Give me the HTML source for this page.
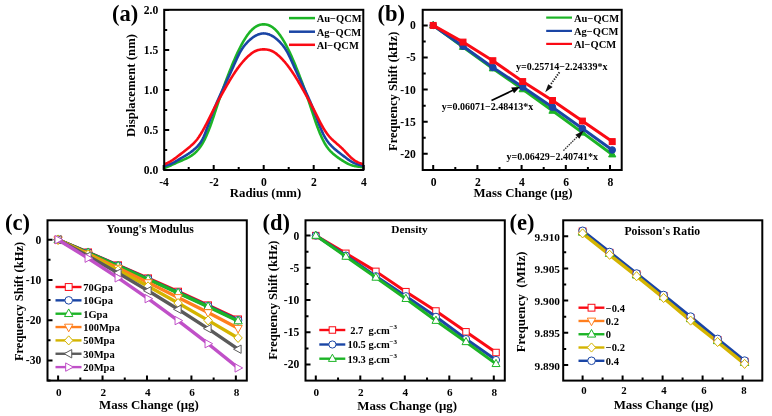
<!DOCTYPE html>
<html><head><meta charset="utf-8"><style>
html,body{margin:0;padding:0;background:#fff;width:772px;height:416px;overflow:hidden}
svg{display:block;will-change:transform}
text{fill:#000}
</style></head><body>
<svg width="772" height="416" viewBox="0 0 772 416" font-family='"Liberation Serif", serif'>
<rect width="772" height="416" fill="#fff"/>
<clipPath id="ca"><rect x="164.2" y="9.8" width="199.10000000000002" height="160.2"/></clipPath>
<path d="M163.70 168.30 L164.32 168.03 L164.95 167.76 L165.57 167.50 L166.20 167.23 L166.82 166.97 L167.45 166.72 L168.07 166.46 L168.70 166.20 L169.32 165.95 L169.95 165.69 L170.57 165.44 L171.20 165.18 L171.82 164.91 L172.45 164.64 L173.07 164.37 L173.70 164.09 L174.32 163.80 L174.95 163.52 L175.57 163.23 L176.20 162.94 L176.82 162.65 L177.45 162.36 L178.07 162.08 L178.70 161.79 L179.32 161.52 L179.95 161.24 L180.57 160.97 L181.20 160.70 L181.82 160.44 L182.45 160.18 L183.07 159.91 L183.70 159.65 L184.32 159.38 L184.95 159.11 L185.57 158.83 L186.20 158.54 L186.82 158.25 L187.45 157.94 L188.07 157.62 L188.70 157.29 L189.32 156.94 L189.95 156.57 L190.57 156.19 L191.20 155.80 L191.82 155.38 L192.45 154.94 L193.07 154.48 L193.70 154.00 L194.32 153.49 L194.95 152.95 L195.57 152.38 L196.20 151.78 L196.82 151.14 L197.45 150.46 L198.07 149.75 L198.70 148.99 L199.32 148.19 L199.95 147.34 L200.57 146.45 L201.20 145.51 L201.82 144.53 L202.45 143.49 L203.07 142.40 L203.70 141.26 L204.32 140.07 L204.95 138.82 L205.57 137.52 L206.20 136.16 L206.82 134.76 L207.45 133.30 L208.07 131.78 L208.70 130.22 L209.32 128.61 L209.95 126.95 L210.57 125.25 L211.20 123.51 L211.82 121.73 L212.45 119.92 L213.07 118.08 L213.70 116.22 L214.32 114.35 L214.95 112.46 L215.57 110.57 L216.20 108.68 L216.82 106.80 L217.45 104.92 L218.07 103.05 L218.70 101.19 L219.32 99.35 L219.95 97.52 L220.57 95.71 L221.20 93.91 L221.82 92.13 L222.45 90.37 L223.07 88.63 L223.70 86.90 L224.32 85.19 L224.95 83.50 L225.57 81.82 L226.20 80.16 L226.82 78.51 L227.45 76.88 L228.07 75.27 L228.70 73.66 L229.32 72.07 L229.95 70.50 L230.57 68.94 L231.20 67.39 L231.82 65.86 L232.45 64.34 L233.07 62.84 L233.70 61.35 L234.32 59.89 L234.95 58.44 L235.57 57.02 L236.20 55.62 L236.82 54.24 L237.45 52.89 L238.07 51.56 L238.70 50.26 L239.32 48.99 L239.95 47.75 L240.57 46.53 L241.20 45.34 L241.82 44.18 L242.45 43.04 L243.07 41.94 L243.70 40.87 L244.32 39.83 L244.95 38.82 L245.57 37.85 L246.20 36.90 L246.82 35.99 L247.45 35.11 L248.07 34.27 L248.70 33.45 L249.32 32.67 L249.95 31.92 L250.57 31.20 L251.20 30.52 L251.82 29.87 L252.45 29.26 L253.07 28.69 L253.70 28.16 L254.32 27.66 L254.95 27.21 L255.57 26.79 L256.20 26.41 L256.82 26.07 L257.45 25.76 L258.07 25.49 L258.70 25.25 L259.32 25.03 L259.95 24.85 L260.57 24.69 L261.20 24.56 L261.82 24.46 L262.45 24.39 L263.07 24.35 L263.70 24.33 L264.32 24.35 L264.95 24.39 L265.57 24.46 L266.20 24.56 L266.82 24.69 L267.45 24.85 L268.07 25.03 L268.70 25.25 L269.32 25.49 L269.95 25.76 L270.57 26.07 L271.20 26.41 L271.82 26.79 L272.45 27.21 L273.07 27.66 L273.70 28.16 L274.32 28.69 L274.95 29.26 L275.57 29.87 L276.20 30.52 L276.82 31.20 L277.45 31.92 L278.07 32.67 L278.70 33.45 L279.32 34.27 L279.95 35.11 L280.57 35.99 L281.20 36.90 L281.82 37.85 L282.45 38.82 L283.07 39.83 L283.70 40.87 L284.32 41.94 L284.95 43.04 L285.57 44.18 L286.20 45.34 L286.82 46.53 L287.45 47.75 L288.07 48.99 L288.70 50.26 L289.32 51.56 L289.95 52.89 L290.57 54.24 L291.20 55.62 L291.82 57.02 L292.45 58.44 L293.07 59.89 L293.70 61.35 L294.32 62.84 L294.95 64.34 L295.57 65.86 L296.20 67.39 L296.82 68.94 L297.45 70.50 L298.07 72.07 L298.70 73.66 L299.32 75.27 L299.95 76.88 L300.57 78.51 L301.20 80.16 L301.82 81.82 L302.45 83.50 L303.07 85.19 L303.70 86.90 L304.32 88.63 L304.95 90.37 L305.57 92.13 L306.20 93.91 L306.82 95.71 L307.45 97.52 L308.07 99.34 L308.70 101.19 L309.32 103.04 L309.95 104.91 L310.57 106.79 L311.20 108.67 L311.82 110.56 L312.45 112.45 L313.07 114.33 L313.70 116.21 L314.32 118.07 L314.95 119.91 L315.57 121.73 L316.20 123.52 L316.82 125.27 L317.45 126.98 L318.07 128.65 L318.70 130.28 L319.32 131.86 L319.95 133.39 L320.57 134.87 L321.20 136.30 L321.82 137.67 L322.45 138.99 L323.07 140.26 L323.70 141.47 L324.32 142.63 L324.95 143.73 L325.57 144.78 L326.20 145.77 L326.82 146.71 L327.45 147.59 L328.07 148.42 L328.70 149.21 L329.32 149.95 L329.95 150.66 L330.57 151.32 L331.20 151.95 L331.82 152.55 L332.45 153.13 L333.07 153.69 L333.70 154.22 L334.32 154.74 L334.95 155.25 L335.57 155.74 L336.20 156.23 L336.82 156.70 L337.45 157.16 L338.07 157.62 L338.70 158.06 L339.32 158.50 L339.95 158.93 L340.57 159.35 L341.20 159.77 L341.82 160.17 L342.45 160.58 L343.07 160.97 L343.70 161.36 L344.32 161.74 L344.95 162.12 L345.57 162.48 L346.20 162.84 L346.82 163.18 L347.45 163.52 L348.07 163.83 L348.70 164.13 L349.32 164.41 L349.95 164.67 L350.57 164.91 L351.20 165.14 L351.82 165.34 L352.45 165.52 L353.07 165.69 L353.70 165.84 L354.32 165.98 L354.95 166.11 L355.57 166.22 L356.20 166.32 L356.82 166.42 L357.45 166.51 L358.07 166.60 L358.70 166.68 L359.32 166.76 L359.95 166.83 L360.57 166.91 L361.20 166.98 L361.82 167.05 L362.45 167.12 L363.07 167.19 L363.70 167.26" stroke="#1cb426" stroke-width="2.6" fill="none" stroke-linejoin="round" clip-path="url(#ca)"/>
<path d="M163.70 166.30 L164.32 166.10 L164.95 165.90 L165.57 165.71 L166.20 165.51 L166.82 165.31 L167.45 165.10 L168.07 164.89 L168.70 164.68 L169.32 164.46 L169.95 164.22 L170.57 163.98 L171.20 163.72 L171.82 163.45 L172.45 163.16 L173.07 162.86 L173.70 162.54 L174.32 162.20 L174.95 161.85 L175.57 161.49 L176.20 161.12 L176.82 160.74 L177.45 160.36 L178.07 159.98 L178.70 159.60 L179.32 159.22 L179.95 158.85 L180.57 158.48 L181.20 158.11 L181.82 157.75 L182.45 157.39 L183.07 157.03 L183.70 156.67 L184.32 156.31 L184.95 155.95 L185.57 155.58 L186.20 155.21 L186.82 154.82 L187.45 154.43 L188.07 154.03 L188.70 153.62 L189.32 153.19 L189.95 152.76 L190.57 152.31 L191.20 151.85 L191.82 151.38 L192.45 150.89 L193.07 150.39 L193.70 149.87 L194.32 149.34 L194.95 148.79 L195.57 148.22 L196.20 147.63 L196.82 147.01 L197.45 146.36 L198.07 145.68 L198.70 144.96 L199.32 144.18 L199.95 143.35 L200.57 142.45 L201.20 141.47 L201.82 140.42 L202.45 139.27 L203.07 138.03 L203.70 136.70 L204.32 135.27 L204.95 133.77 L205.57 132.19 L206.20 130.55 L206.82 128.86 L207.45 127.14 L208.07 125.39 L208.70 123.64 L209.32 121.88 L209.95 120.14 L210.57 118.41 L211.20 116.71 L211.82 115.03 L212.45 113.37 L213.07 111.75 L213.70 110.15 L214.32 108.58 L214.95 107.03 L215.57 105.51 L216.20 104.02 L216.82 102.55 L217.45 101.10 L218.07 99.67 L218.70 98.25 L219.32 96.86 L219.95 95.47 L220.57 94.10 L221.20 92.73 L221.82 91.38 L222.45 90.03 L223.07 88.69 L223.70 87.35 L224.32 86.02 L224.95 84.69 L225.57 83.37 L226.20 82.05 L226.82 80.72 L227.45 79.40 L228.07 78.07 L228.70 76.74 L229.32 75.40 L229.95 74.05 L230.57 72.69 L231.20 71.32 L231.82 69.93 L232.45 68.54 L233.07 67.13 L233.70 65.72 L234.32 64.30 L234.95 62.89 L235.57 61.48 L236.20 60.09 L236.82 58.73 L237.45 57.39 L238.07 56.09 L238.70 54.84 L239.32 53.63 L239.95 52.47 L240.57 51.36 L241.20 50.31 L241.82 49.31 L242.45 48.35 L243.07 47.45 L243.70 46.59 L244.32 45.77 L244.95 44.99 L245.57 44.24 L246.20 43.53 L246.82 42.84 L247.45 42.18 L248.07 41.55 L248.70 40.94 L249.32 40.35 L249.95 39.78 L250.57 39.24 L251.20 38.72 L251.82 38.22 L252.45 37.75 L253.07 37.30 L253.70 36.87 L254.32 36.47 L254.95 36.09 L255.57 35.74 L256.20 35.41 L256.82 35.11 L257.45 34.83 L258.07 34.57 L258.70 34.34 L259.32 34.13 L259.95 33.95 L260.57 33.79 L261.20 33.66 L261.82 33.55 L262.45 33.48 L263.07 33.43 L263.70 33.42 L264.32 33.43 L264.95 33.48 L265.57 33.55 L266.20 33.66 L266.82 33.79 L267.45 33.95 L268.07 34.13 L268.70 34.34 L269.32 34.57 L269.95 34.83 L270.57 35.11 L271.20 35.41 L271.82 35.74 L272.45 36.09 L273.07 36.47 L273.70 36.87 L274.32 37.30 L274.95 37.75 L275.57 38.22 L276.20 38.72 L276.82 39.24 L277.45 39.78 L278.07 40.35 L278.70 40.94 L279.32 41.55 L279.95 42.18 L280.57 42.84 L281.20 43.53 L281.82 44.24 L282.45 44.99 L283.07 45.77 L283.70 46.59 L284.32 47.45 L284.95 48.35 L285.57 49.31 L286.20 50.31 L286.82 51.36 L287.45 52.47 L288.07 53.63 L288.70 54.84 L289.32 56.09 L289.95 57.39 L290.57 58.73 L291.20 60.09 L291.82 61.48 L292.45 62.89 L293.07 64.30 L293.70 65.72 L294.32 67.13 L294.95 68.54 L295.57 69.93 L296.20 71.32 L296.82 72.69 L297.45 74.05 L298.07 75.40 L298.70 76.74 L299.32 78.07 L299.95 79.40 L300.57 80.72 L301.20 82.05 L301.82 83.37 L302.45 84.69 L303.07 86.02 L303.70 87.35 L304.32 88.69 L304.95 90.03 L305.57 91.38 L306.20 92.73 L306.82 94.10 L307.45 95.47 L308.07 96.86 L308.70 98.26 L309.32 99.68 L309.95 101.12 L310.57 102.58 L311.20 104.06 L311.82 105.57 L312.45 107.10 L313.07 108.65 L313.70 110.23 L314.32 111.83 L314.95 113.46 L315.57 115.10 L316.20 116.74 L316.82 118.40 L317.45 120.05 L318.07 121.70 L318.70 123.33 L319.32 124.94 L319.95 126.52 L320.57 128.07 L321.20 129.57 L321.82 131.01 L322.45 132.40 L323.07 133.73 L323.70 135.00 L324.32 136.19 L324.95 137.32 L325.57 138.38 L326.20 139.38 L326.82 140.32 L327.45 141.21 L328.07 142.04 L328.70 142.84 L329.32 143.59 L329.95 144.31 L330.57 145.00 L331.20 145.66 L331.82 146.30 L332.45 146.93 L333.07 147.53 L333.70 148.11 L334.32 148.68 L334.95 149.24 L335.57 149.78 L336.20 150.31 L336.82 150.83 L337.45 151.34 L338.07 151.85 L338.70 152.34 L339.32 152.83 L339.95 153.31 L340.57 153.78 L341.20 154.26 L341.82 154.73 L342.45 155.19 L343.07 155.66 L343.70 156.13 L344.32 156.60 L344.95 157.07 L345.57 157.55 L346.20 158.02 L346.82 158.48 L347.45 158.94 L348.07 159.40 L348.70 159.84 L349.32 160.28 L349.95 160.69 L350.57 161.09 L351.20 161.47 L351.82 161.83 L352.45 162.17 L353.07 162.50 L353.70 162.80 L354.32 163.08 L354.95 163.35 L355.57 163.60 L356.20 163.84 L356.82 164.07 L357.45 164.28 L358.07 164.48 L358.70 164.67 L359.32 164.85 L359.95 165.02 L360.57 165.18 L361.20 165.33 L361.82 165.48 L362.45 165.62 L363.07 165.76 L363.70 165.90" stroke="#1a45a5" stroke-width="2.6" fill="none" stroke-linejoin="round" clip-path="url(#ca)"/>
<path d="M163.70 164.70 L164.32 164.42 L164.95 164.13 L165.57 163.84 L166.20 163.55 L166.82 163.25 L167.45 162.95 L168.07 162.63 L168.70 162.31 L169.32 161.98 L169.95 161.63 L170.57 161.28 L171.20 160.90 L171.82 160.52 L172.45 160.12 L173.07 159.70 L173.70 159.28 L174.32 158.84 L174.95 158.39 L175.57 157.94 L176.20 157.47 L176.82 157.01 L177.45 156.53 L178.07 156.06 L178.70 155.58 L179.32 155.10 L179.95 154.62 L180.57 154.13 L181.20 153.65 L181.82 153.17 L182.45 152.68 L183.07 152.19 L183.70 151.71 L184.32 151.21 L184.95 150.72 L185.57 150.23 L186.20 149.73 L186.82 149.23 L187.45 148.72 L188.07 148.21 L188.70 147.70 L189.32 147.18 L189.95 146.66 L190.57 146.13 L191.20 145.58 L191.82 145.03 L192.45 144.45 L193.07 143.86 L193.70 143.25 L194.32 142.61 L194.95 141.94 L195.57 141.24 L196.20 140.50 L196.82 139.73 L197.45 138.93 L198.07 138.08 L198.70 137.19 L199.32 136.27 L199.95 135.31 L200.57 134.32 L201.20 133.30 L201.82 132.24 L202.45 131.17 L203.07 130.06 L203.70 128.94 L204.32 127.80 L204.95 126.63 L205.57 125.46 L206.20 124.26 L206.82 123.05 L207.45 121.83 L208.07 120.60 L208.70 119.36 L209.32 118.11 L209.95 116.86 L210.57 115.61 L211.20 114.35 L211.82 113.10 L212.45 111.86 L213.07 110.62 L213.70 109.40 L214.32 108.18 L214.95 106.97 L215.57 105.78 L216.20 104.59 L216.82 103.41 L217.45 102.25 L218.07 101.09 L218.70 99.94 L219.32 98.80 L219.95 97.67 L220.57 96.54 L221.20 95.41 L221.82 94.29 L222.45 93.18 L223.07 92.07 L223.70 90.96 L224.32 89.85 L224.95 88.75 L225.57 87.65 L226.20 86.56 L226.82 85.47 L227.45 84.39 L228.07 83.31 L228.70 82.25 L229.32 81.19 L229.95 80.14 L230.57 79.11 L231.20 78.08 L231.82 77.07 L232.45 76.07 L233.07 75.09 L233.70 74.12 L234.32 73.17 L234.95 72.23 L235.57 71.30 L236.20 70.39 L236.82 69.50 L237.45 68.63 L238.07 67.77 L238.70 66.93 L239.32 66.10 L239.95 65.29 L240.57 64.50 L241.20 63.72 L241.82 62.96 L242.45 62.22 L243.07 61.49 L243.70 60.79 L244.32 60.09 L244.95 59.42 L245.57 58.76 L246.20 58.12 L246.82 57.50 L247.45 56.89 L248.07 56.31 L248.70 55.73 L249.32 55.18 L249.95 54.65 L250.57 54.13 L251.20 53.64 L251.82 53.18 L252.45 52.74 L253.07 52.33 L253.70 51.95 L254.32 51.59 L254.95 51.27 L255.57 50.98 L256.20 50.72 L256.82 50.48 L257.45 50.28 L258.07 50.09 L258.70 49.93 L259.32 49.79 L259.95 49.68 L260.57 49.58 L261.20 49.50 L261.82 49.44 L262.45 49.39 L263.07 49.36 L263.70 49.36 L264.32 49.36 L264.95 49.39 L265.57 49.44 L266.20 49.50 L266.82 49.58 L267.45 49.68 L268.07 49.79 L268.70 49.93 L269.32 50.09 L269.95 50.28 L270.57 50.48 L271.20 50.72 L271.82 50.98 L272.45 51.27 L273.07 51.59 L273.70 51.95 L274.32 52.33 L274.95 52.74 L275.57 53.18 L276.20 53.64 L276.82 54.13 L277.45 54.65 L278.07 55.18 L278.70 55.73 L279.32 56.31 L279.95 56.89 L280.57 57.50 L281.20 58.12 L281.82 58.76 L282.45 59.42 L283.07 60.09 L283.70 60.79 L284.32 61.49 L284.95 62.22 L285.57 62.96 L286.20 63.72 L286.82 64.50 L287.45 65.29 L288.07 66.10 L288.70 66.93 L289.32 67.77 L289.95 68.63 L290.57 69.50 L291.20 70.39 L291.82 71.30 L292.45 72.23 L293.07 73.17 L293.70 74.12 L294.32 75.09 L294.95 76.07 L295.57 77.07 L296.20 78.08 L296.82 79.11 L297.45 80.14 L298.07 81.19 L298.70 82.25 L299.32 83.31 L299.95 84.39 L300.57 85.47 L301.20 86.56 L301.82 87.65 L302.45 88.75 L303.07 89.85 L303.70 90.96 L304.32 92.07 L304.95 93.18 L305.57 94.30 L306.20 95.42 L306.82 96.54 L307.45 97.67 L308.07 98.80 L308.70 99.95 L309.32 101.10 L309.95 102.26 L310.57 103.42 L311.20 104.60 L311.82 105.79 L312.45 106.99 L313.07 108.21 L313.70 109.43 L314.32 110.67 L314.95 111.91 L315.57 113.16 L316.20 114.42 L316.82 115.68 L317.45 116.93 L318.07 118.18 L318.70 119.42 L319.32 120.64 L319.95 121.85 L320.57 123.03 L321.20 124.20 L321.82 125.33 L322.45 126.45 L323.07 127.53 L323.70 128.58 L324.32 129.60 L324.95 130.59 L325.57 131.55 L326.20 132.47 L326.82 133.35 L327.45 134.20 L328.07 135.02 L328.70 135.80 L329.32 136.54 L329.95 137.25 L330.57 137.93 L331.20 138.58 L331.82 139.20 L332.45 139.80 L333.07 140.38 L333.70 140.95 L334.32 141.50 L334.95 142.05 L335.57 142.59 L336.20 143.13 L336.82 143.67 L337.45 144.21 L338.07 144.75 L338.70 145.30 L339.32 145.86 L339.95 146.42 L340.57 146.99 L341.20 147.58 L341.82 148.18 L342.45 148.79 L343.07 149.41 L343.70 150.05 L344.32 150.70 L344.95 151.35 L345.57 152.02 L346.20 152.68 L346.82 153.35 L347.45 154.01 L348.07 154.67 L348.70 155.31 L349.32 155.94 L349.95 156.55 L350.57 157.14 L351.20 157.71 L351.82 158.26 L352.45 158.79 L353.07 159.29 L353.70 159.76 L354.32 160.21 L354.95 160.64 L355.57 161.03 L356.20 161.40 L356.82 161.75 L357.45 162.07 L358.07 162.36 L358.70 162.64 L359.32 162.89 L359.95 163.13 L360.57 163.35 L361.20 163.56 L361.82 163.75 L362.45 163.94 L363.07 164.12 L363.70 164.30" stroke="#fa0a14" stroke-width="2.6" fill="none" stroke-linejoin="round" clip-path="url(#ca)"/>
<rect x="164.2" y="9.8" width="199.1" height="160.2" fill="none" stroke="#000" stroke-width="2.0"/>
<path d="M163.7 170V165M213.7 170V165M263.7 170V165M313.7 170V165M363.7 170V165M188.7 170V167M238.7 170V167M288.7 170V167M338.7 170V167" stroke="#000" stroke-width="2.0" fill="none"/>
<path d="M164.2 169.9H169.2M164.2 129.9H169.2M164.2 89.9H169.2M164.2 49.9H169.2M164.2 9.9H169.2M164.2 149.9H167.2M164.2 109.9H167.2M164.2 69.9H167.2M164.2 29.9H167.2" stroke="#000" stroke-width="2.0" fill="none"/>
<text x="158.3" y="173.9" font-size="11.6" text-anchor="end" font-weight="bold">0.0</text>
<text x="158.3" y="133.9" font-size="11.6" text-anchor="end" font-weight="bold">0.5</text>
<text x="158.3" y="93.9" font-size="11.6" text-anchor="end" font-weight="bold">1.0</text>
<text x="158.3" y="53.9" font-size="11.6" text-anchor="end" font-weight="bold">1.5</text>
<text x="158.3" y="13.9" font-size="11.6" text-anchor="end" font-weight="bold">2.0</text>
<text x="164" y="185.6" font-size="11.6" text-anchor="middle" font-weight="bold">-4</text>
<text x="214" y="185.6" font-size="11.6" text-anchor="middle" font-weight="bold">-2</text>
<text x="264" y="185.6" font-size="11.6" text-anchor="middle" font-weight="bold">0</text>
<text x="314" y="185.6" font-size="11.6" text-anchor="middle" font-weight="bold">2</text>
<text x="364" y="185.6" font-size="11.6" text-anchor="middle" font-weight="bold">4</text>
<text x="265.5" y="196.7" font-size="12.8" text-anchor="middle" font-weight="bold">Radius (mm)</text>
<text x="134.6" y="85.5" font-size="12.75" text-anchor="middle" font-weight="bold" transform="rotate(-90 134.6 85.5)">Displacement (nm)</text>
<text x="112" y="20.8" font-size="22.5" text-anchor="start" font-weight="bold">(a)</text>
<path d="M289 18.1H315" stroke="#1cb426" stroke-width="2.5"/>
<text x="316.7" y="21.9" font-size="10.5" text-anchor="start" font-weight="bold">Au−QCM</text>
<path d="M289 31.7H315" stroke="#1a45a5" stroke-width="2.5"/>
<text x="316.7" y="35.5" font-size="10.5" text-anchor="start" font-weight="bold">Ag−QCM</text>
<path d="M289 44.8H315" stroke="#fa0a14" stroke-width="2.5"/>
<text x="316.7" y="48.6" font-size="10.5" text-anchor="start" font-weight="bold">Al−QCM</text>
<path d="M433.2 25.4 L463.03 46.91 L492.87 68.41 L522.7 89.28 L552.54 110.79 L582.38 132.61 L612.21 154.44" stroke="#1cb426" stroke-width="3" fill="none" stroke-linejoin="round"/>
<path d="M433.2 21.27L436.83 27.88L429.57 27.88Z" fill="#1cb426" stroke="#1cb426" stroke-width="1.0" stroke-linejoin="miter"/>
<path d="M463.03 42.78L466.66 49.38L459.4 49.38Z" fill="#1cb426" stroke="#1cb426" stroke-width="1.0" stroke-linejoin="miter"/>
<path d="M492.87 64.29L496.5 70.89L489.24 70.89Z" fill="#1cb426" stroke="#1cb426" stroke-width="1.0" stroke-linejoin="miter"/>
<path d="M522.7 85.15L526.33 91.75L519.07 91.75Z" fill="#1cb426" stroke="#1cb426" stroke-width="1.0" stroke-linejoin="miter"/>
<path d="M552.54 106.66L556.17 113.26L548.91 113.26Z" fill="#1cb426" stroke="#1cb426" stroke-width="1.0" stroke-linejoin="miter"/>
<path d="M582.38 128.49L586 135.09L578.75 135.09Z" fill="#1cb426" stroke="#1cb426" stroke-width="1.0" stroke-linejoin="miter"/>
<path d="M612.21 150.32L615.84 156.92L608.58 156.92Z" fill="#1cb426" stroke="#1cb426" stroke-width="1.0" stroke-linejoin="miter"/>
<path d="M433.2 25.4 L463.03 46.27 L492.87 67.45 L522.7 87.03 L552.54 107.25 L582.38 128.44 L612.21 149.95" stroke="#1a45a5" stroke-width="3" fill="none" stroke-linejoin="round"/>
<circle cx="433.2" cy="25.4" r="3.3" fill="#1a45a5" stroke="#1a45a5" stroke-width="1.0"/>
<circle cx="463.03" cy="46.27" r="3.3" fill="#1a45a5" stroke="#1a45a5" stroke-width="1.0"/>
<circle cx="492.87" cy="67.45" r="3.3" fill="#1a45a5" stroke="#1a45a5" stroke-width="1.0"/>
<circle cx="522.7" cy="87.03" r="3.3" fill="#1a45a5" stroke="#1a45a5" stroke-width="1.0"/>
<circle cx="552.54" cy="107.25" r="3.3" fill="#1a45a5" stroke="#1a45a5" stroke-width="1.0"/>
<circle cx="582.38" cy="128.44" r="3.3" fill="#1a45a5" stroke="#1a45a5" stroke-width="1.0"/>
<circle cx="612.21" cy="149.95" r="3.3" fill="#1a45a5" stroke="#1a45a5" stroke-width="1.0"/>
<path d="M433.2 25.4 L463.03 42.09 L492.87 60.71 L522.7 81.57 L552.54 100.51 L582.38 121.06 L612.21 141.6" stroke="#fa0a14" stroke-width="3" fill="none" stroke-linejoin="round"/>
<rect x="430.23" y="22.43" width="5.94" height="5.94" fill="#fa0a14" stroke="#fa0a14" stroke-width="1.0"/>
<rect x="460.06" y="39.12" width="5.94" height="5.94" fill="#fa0a14" stroke="#fa0a14" stroke-width="1.0"/>
<rect x="489.9" y="57.74" width="5.94" height="5.94" fill="#fa0a14" stroke="#fa0a14" stroke-width="1.0"/>
<rect x="519.73" y="78.6" width="5.94" height="5.94" fill="#fa0a14" stroke="#fa0a14" stroke-width="1.0"/>
<rect x="549.57" y="97.54" width="5.94" height="5.94" fill="#fa0a14" stroke="#fa0a14" stroke-width="1.0"/>
<rect x="579.4" y="118.09" width="5.94" height="5.94" fill="#fa0a14" stroke="#fa0a14" stroke-width="1.0"/>
<rect x="609.24" y="138.63" width="5.94" height="5.94" fill="#fa0a14" stroke="#fa0a14" stroke-width="1.0"/>
<rect x="422.7" y="9.8" width="199" height="160.2" fill="none" stroke="#000" stroke-width="2.0"/>
<path d="M433.2 170V165M477.4 170V165M521.6 170V165M565.8 170V165M610 170V165M455.3 170V167M499.5 170V167M543.7 170V167M587.9 170V167" stroke="#000" stroke-width="2.0" fill="none"/>
<path d="M422.7 25.4H427.7M422.7 57.5H427.7M422.7 89.6H427.7M422.7 121.7H427.7M422.7 153.8H427.7M422.7 41.45H425.7M422.7 73.55H425.7M422.7 105.65H425.7M422.7 137.75H425.7" stroke="#000" stroke-width="2.0" fill="none"/>
<text x="415.8" y="29.3" font-size="11.6" text-anchor="end" font-weight="bold">0</text>
<text x="415.8" y="61.4" font-size="11.6" text-anchor="end" font-weight="bold">-5</text>
<text x="415.8" y="93.5" font-size="11.6" text-anchor="end" font-weight="bold">-10</text>
<text x="415.8" y="125.6" font-size="11.6" text-anchor="end" font-weight="bold">-15</text>
<text x="415.8" y="157.7" font-size="11.6" text-anchor="end" font-weight="bold">-20</text>
<text x="433.6" y="185.6" font-size="11.6" text-anchor="middle" font-weight="bold">0</text>
<text x="477.8" y="185.6" font-size="11.6" text-anchor="middle" font-weight="bold">2</text>
<text x="522" y="185.6" font-size="11.6" text-anchor="middle" font-weight="bold">4</text>
<text x="566.2" y="185.6" font-size="11.6" text-anchor="middle" font-weight="bold">6</text>
<text x="610.4" y="185.6" font-size="11.6" text-anchor="middle" font-weight="bold">8</text>
<text x="523" y="197" font-size="12.8" text-anchor="middle" font-weight="bold">Mass Change (μg)</text>
<text x="397" y="91.3" font-size="12.5" text-anchor="middle" font-weight="bold" transform="rotate(-90 397 91.3)">Frequency Shift (kHz)</text>
<text x="377.5" y="20.8" font-size="22.5" text-anchor="start" font-weight="bold">(b)</text>
<path d="M546.2 17.6H572" stroke="#1cb426" stroke-width="2.2"/>
<text x="574" y="21.5" font-size="10.5" text-anchor="start" font-weight="bold">Au−QCM</text>
<path d="M546.2 30.9H572" stroke="#1a45a5" stroke-width="2.2"/>
<text x="574" y="34.8" font-size="10.5" text-anchor="start" font-weight="bold">Ag−QCM</text>
<path d="M546.2 43.9H572" stroke="#fa0a14" stroke-width="2.2"/>
<text x="574" y="47.8" font-size="10.5" text-anchor="start" font-weight="bold">Al−QCM</text>
<text x="516.1" y="69.8" font-size="10" text-anchor="start" font-weight="bold">y=0.25714−2.24339*x</text>
<text x="441.8" y="109.6" font-size="10" text-anchor="start" font-weight="bold">y=0.06071−2.48413*x</text>
<text x="506.6" y="159.8" font-size="10" text-anchor="start" font-weight="bold">y=0.06429−2.40741*x</text>
<path d="M559.4 72.3L550.6 84.6" stroke="#222" stroke-width="1.9" stroke-dasharray="1.3 1.3" fill="none"/>
<path d="M545.2 92.3L548.2 84.2L552.6 87.1Z" fill="#111"/>
<path d="M491.5 100.5L514 89.8" stroke="#000" stroke-width="1.7" fill="none"/>
<path d="M519.9 87L511.2 87.5L514.0 93.3Z" fill="#000"/>
<path d="M563.4 150.6L578 136" stroke="#333" stroke-width="1.3" stroke-dasharray="1.6 0.9" fill="none"/>
<path d="M583.8 130.4L579.4 138.7L575.4 134.7Z" fill="#111"/>
<path d="M58.1 239.7 L88.1 252.38 L118.09 265.26 L148.09 278.34 L178.09 291.62 L208.08 305.31 L238.08 319.39" stroke="#fa0a14" stroke-width="3.4" fill="none" stroke-linejoin="round"/>
<rect x="54.68" y="236.28" width="6.84" height="6.84" fill="#fff" stroke="#fa0a14" stroke-width="1.0"/>
<rect x="84.68" y="248.96" width="6.84" height="6.84" fill="#fff" stroke="#fa0a14" stroke-width="1.0"/>
<rect x="114.67" y="261.84" width="6.84" height="6.84" fill="#fff" stroke="#fa0a14" stroke-width="1.0"/>
<rect x="144.67" y="274.92" width="6.84" height="6.84" fill="#fff" stroke="#fa0a14" stroke-width="1.0"/>
<rect x="174.67" y="288.2" width="6.84" height="6.84" fill="#fff" stroke="#fa0a14" stroke-width="1.0"/>
<rect x="204.66" y="301.89" width="6.84" height="6.84" fill="#fff" stroke="#fa0a14" stroke-width="1.0"/>
<rect x="234.66" y="315.97" width="6.84" height="6.84" fill="#fff" stroke="#fa0a14" stroke-width="1.0"/>
<path d="M58.1 239.7 L88.1 252.58 L118.09 265.66 L148.09 278.94 L178.09 292.43 L208.08 306.11 L238.08 320.2" stroke="#1a45a5" stroke-width="3.4" fill="none" stroke-linejoin="round"/>
<circle cx="58.1" cy="239.7" r="3.8" fill="#fff" stroke="#1a45a5" stroke-width="1.0"/>
<circle cx="88.1" cy="252.58" r="3.8" fill="#fff" stroke="#1a45a5" stroke-width="1.0"/>
<circle cx="118.09" cy="265.66" r="3.8" fill="#fff" stroke="#1a45a5" stroke-width="1.0"/>
<circle cx="148.09" cy="278.94" r="3.8" fill="#fff" stroke="#1a45a5" stroke-width="1.0"/>
<circle cx="178.09" cy="292.43" r="3.8" fill="#fff" stroke="#1a45a5" stroke-width="1.0"/>
<circle cx="208.08" cy="306.11" r="3.8" fill="#fff" stroke="#1a45a5" stroke-width="1.0"/>
<circle cx="238.08" cy="320.2" r="3.8" fill="#fff" stroke="#1a45a5" stroke-width="1.0"/>
<path d="M58.1 239.7 L88.1 252.7 L118.09 265.94 L148.09 279.31 L178.09 292.87 L208.08 306.64 L238.08 321" stroke="#1cb426" stroke-width="3.4" fill="none" stroke-linejoin="round"/>
<path d="M58.1 234.95L62.28 242.55L53.92 242.55Z" fill="#fff" stroke="#1cb426" stroke-width="1.0" stroke-linejoin="miter"/>
<path d="M88.1 247.95L92.28 255.55L83.92 255.55Z" fill="#fff" stroke="#1cb426" stroke-width="1.0" stroke-linejoin="miter"/>
<path d="M118.09 261.19L122.27 268.79L113.91 268.79Z" fill="#fff" stroke="#1cb426" stroke-width="1.0" stroke-linejoin="miter"/>
<path d="M148.09 274.56L152.27 282.16L143.91 282.16Z" fill="#fff" stroke="#1cb426" stroke-width="1.0" stroke-linejoin="miter"/>
<path d="M178.09 288.12L182.27 295.72L173.91 295.72Z" fill="#fff" stroke="#1cb426" stroke-width="1.0" stroke-linejoin="miter"/>
<path d="M208.08 301.89L212.26 309.49L203.9 309.49Z" fill="#fff" stroke="#1cb426" stroke-width="1.0" stroke-linejoin="miter"/>
<path d="M238.08 316.25L242.26 323.86L233.9 323.86Z" fill="#fff" stroke="#1cb426" stroke-width="1.0" stroke-linejoin="miter"/>
<path d="M58.1 239.7 L88.1 253.79 L118.09 268.08 L148.09 282.57 L178.09 297.46 L208.08 312.55 L238.08 328.25" stroke="#ff7f1e" stroke-width="3.4" fill="none" stroke-linejoin="round"/>
<path d="M58.1 244.45L62.28 236.85L53.92 236.85Z" fill="#fff" stroke="#ff7f1e" stroke-width="1.0" stroke-linejoin="miter"/>
<path d="M88.1 258.54L92.28 250.94L83.92 250.94Z" fill="#fff" stroke="#ff7f1e" stroke-width="1.0" stroke-linejoin="miter"/>
<path d="M118.09 272.83L122.27 265.23L113.91 265.23Z" fill="#fff" stroke="#ff7f1e" stroke-width="1.0" stroke-linejoin="miter"/>
<path d="M148.09 287.32L152.27 279.72L143.91 279.72Z" fill="#fff" stroke="#ff7f1e" stroke-width="1.0" stroke-linejoin="miter"/>
<path d="M178.09 302.21L182.27 294.61L173.91 294.61Z" fill="#fff" stroke="#ff7f1e" stroke-width="1.0" stroke-linejoin="miter"/>
<path d="M208.08 317.3L212.26 309.7L203.9 309.7Z" fill="#fff" stroke="#ff7f1e" stroke-width="1.0" stroke-linejoin="miter"/>
<path d="M238.08 333L242.26 325.4L233.9 325.4Z" fill="#fff" stroke="#ff7f1e" stroke-width="1.0" stroke-linejoin="miter"/>
<path d="M58.1 239.7 L88.1 254.67 L118.09 270.21 L148.09 286.35 L178.09 303.09 L208.08 320.4 L238.08 337.91" stroke="#d4b400" stroke-width="3.4" fill="none" stroke-linejoin="round"/>
<path d="M58.1 235.14L62.28 239.7L58.1 244.26L53.92 239.7Z" fill="#fff" stroke="#d4b400" stroke-width="1.0" stroke-linejoin="miter"/>
<path d="M88.1 250.11L92.28 254.67L88.1 259.23L83.92 254.67Z" fill="#fff" stroke="#d4b400" stroke-width="1.0" stroke-linejoin="miter"/>
<path d="M118.09 265.65L122.27 270.21L118.09 274.77L113.91 270.21Z" fill="#fff" stroke="#d4b400" stroke-width="1.0" stroke-linejoin="miter"/>
<path d="M148.09 281.79L152.27 286.35L148.09 290.91L143.91 286.35Z" fill="#fff" stroke="#d4b400" stroke-width="1.0" stroke-linejoin="miter"/>
<path d="M178.09 298.53L182.27 303.09L178.09 307.65L173.91 303.09Z" fill="#fff" stroke="#d4b400" stroke-width="1.0" stroke-linejoin="miter"/>
<path d="M208.08 315.84L212.26 320.4L208.08 324.96L203.9 320.4Z" fill="#fff" stroke="#d4b400" stroke-width="1.0" stroke-linejoin="miter"/>
<path d="M238.08 333.35L242.26 337.91L238.08 342.47L233.9 337.91Z" fill="#fff" stroke="#d4b400" stroke-width="1.0" stroke-linejoin="miter"/>
<path d="M58.1 239.7 L88.1 255.96 L118.09 272.95 L148.09 290.74 L178.09 309.29 L208.08 328.61 L238.08 349.18" stroke="#5a5a5a" stroke-width="3.4" fill="none" stroke-linejoin="round"/>
<path d="M53.54 239.7L61.14 235.52L61.14 243.88Z" fill="#fff" stroke="#5a5a5a" stroke-width="1.0" stroke-linejoin="miter"/>
<path d="M83.54 255.96L91.14 251.78L91.14 260.14Z" fill="#fff" stroke="#5a5a5a" stroke-width="1.0" stroke-linejoin="miter"/>
<path d="M113.53 272.95L121.13 268.77L121.13 277.13Z" fill="#fff" stroke="#5a5a5a" stroke-width="1.0" stroke-linejoin="miter"/>
<path d="M143.53 290.74L151.13 286.56L151.13 294.92Z" fill="#fff" stroke="#5a5a5a" stroke-width="1.0" stroke-linejoin="miter"/>
<path d="M173.53 309.29L181.13 305.11L181.13 313.47Z" fill="#fff" stroke="#5a5a5a" stroke-width="1.0" stroke-linejoin="miter"/>
<path d="M203.52 328.61L211.12 324.43L211.12 332.79Z" fill="#fff" stroke="#5a5a5a" stroke-width="1.0" stroke-linejoin="miter"/>
<path d="M233.52 349.18L241.12 345L241.12 353.36Z" fill="#fff" stroke="#5a5a5a" stroke-width="1.0" stroke-linejoin="miter"/>
<path d="M58.1 239.7 L88.1 258.21 L118.09 277.86 L148.09 298.67 L178.09 320.6 L208.08 343.71 L238.08 367.94" stroke="#c050c8" stroke-width="3.4" fill="none" stroke-linejoin="round"/>
<path d="M62.66 239.7L55.06 235.52L55.06 243.88Z" fill="#fff" stroke="#c050c8" stroke-width="1.0" stroke-linejoin="miter"/>
<path d="M92.66 258.21L85.06 254.03L85.06 262.39Z" fill="#fff" stroke="#c050c8" stroke-width="1.0" stroke-linejoin="miter"/>
<path d="M122.65 277.86L115.05 273.68L115.05 282.04Z" fill="#fff" stroke="#c050c8" stroke-width="1.0" stroke-linejoin="miter"/>
<path d="M152.65 298.67L145.05 294.49L145.05 302.85Z" fill="#fff" stroke="#c050c8" stroke-width="1.0" stroke-linejoin="miter"/>
<path d="M182.65 320.6L175.05 316.42L175.05 324.78Z" fill="#fff" stroke="#c050c8" stroke-width="1.0" stroke-linejoin="miter"/>
<path d="M212.64 343.71L205.04 339.53L205.04 347.89Z" fill="#fff" stroke="#c050c8" stroke-width="1.0" stroke-linejoin="miter"/>
<path d="M242.64 367.94L235.04 363.76L235.04 372.12Z" fill="#fff" stroke="#c050c8" stroke-width="1.0" stroke-linejoin="miter"/>
<rect x="47.5" y="220.3" width="199.3" height="160.3" fill="none" stroke="#000" stroke-width="2.0"/>
<path d="M58.1 380.6V375.6M102.54 380.6V375.6M146.98 380.6V375.6M191.42 380.6V375.6M235.86 380.6V375.6M80.32 380.6V377.6M124.76 380.6V377.6M169.2 380.6V377.6M213.64 380.6V377.6" stroke="#000" stroke-width="2.0" fill="none"/>
<path d="M47.5 239.7H52.5M47.5 279.95H52.5M47.5 320.2H52.5M47.5 360.45H52.5M47.5 259.82H50.5M47.5 300.07H50.5M47.5 340.32H50.5M47.5 380.57H50.5" stroke="#000" stroke-width="2.0" fill="none"/>
<text x="41.3" y="243.6" font-size="11.6" text-anchor="end" font-weight="bold">0</text>
<text x="41.3" y="283.85" font-size="11.6" text-anchor="end" font-weight="bold">-10</text>
<text x="41.3" y="324.1" font-size="11.6" text-anchor="end" font-weight="bold">-20</text>
<text x="41.3" y="364.35" font-size="11.6" text-anchor="end" font-weight="bold">-30</text>
<text x="58.8" y="395.8" font-size="11.2" text-anchor="middle" font-weight="bold">0</text>
<text x="103.24" y="395.8" font-size="11.2" text-anchor="middle" font-weight="bold">2</text>
<text x="147.68" y="395.8" font-size="11.2" text-anchor="middle" font-weight="bold">4</text>
<text x="192.12" y="395.8" font-size="11.2" text-anchor="middle" font-weight="bold">6</text>
<text x="236.56" y="395.8" font-size="11.2" text-anchor="middle" font-weight="bold">8</text>
<text x="148.9" y="408.6" font-size="12.9" text-anchor="middle" font-weight="bold">Mass Change (μg)</text>
<text x="22.8" y="301.5" font-size="12.5" text-anchor="middle" font-weight="bold" transform="rotate(-90 22.8 301.5)">Frequency Shift (kHz)</text>
<text x="5" y="229.6" font-size="22.5" text-anchor="start" font-weight="bold">(c)</text>
<text x="150.2" y="233.1" font-size="11.75" text-anchor="middle" font-weight="bold">Young's Modulus</text>
<path d="M55.5 287H81.5" stroke="#fa0a14" stroke-width="2.4"/>
<rect x="65.28" y="283.58" width="6.84" height="6.84" fill="#fff" stroke="#fa0a14" stroke-width="1.0"/>
<text x="83.2" y="290.8" font-size="10.5" text-anchor="start" font-weight="bold">70Gpa</text>
<path d="M55.5 300.35H81.5" stroke="#1a45a5" stroke-width="2.4"/>
<circle cx="68.7" cy="300.35" r="3.8" fill="#fff" stroke="#1a45a5" stroke-width="1.0"/>
<text x="83.2" y="304.15" font-size="10.5" text-anchor="start" font-weight="bold">10Gpa</text>
<path d="M55.5 313.7H81.5" stroke="#1cb426" stroke-width="2.4"/>
<path d="M68.7 308.95L72.88 316.55L64.52 316.55Z" fill="#fff" stroke="#1cb426" stroke-width="1.0" stroke-linejoin="miter"/>
<text x="83.2" y="317.5" font-size="10.5" text-anchor="start" font-weight="bold">1Gpa</text>
<path d="M55.5 327.05H81.5" stroke="#ff7f1e" stroke-width="2.4"/>
<path d="M68.7 331.8L72.88 324.2L64.52 324.2Z" fill="#fff" stroke="#ff7f1e" stroke-width="1.0" stroke-linejoin="miter"/>
<text x="83.2" y="330.85" font-size="10.5" text-anchor="start" font-weight="bold">100Mpa</text>
<path d="M55.5 340.4H81.5" stroke="#d4b400" stroke-width="2.4"/>
<path d="M68.7 335.84L72.88 340.4L68.7 344.96L64.52 340.4Z" fill="#fff" stroke="#d4b400" stroke-width="1.0" stroke-linejoin="miter"/>
<text x="83.2" y="344.2" font-size="10.5" text-anchor="start" font-weight="bold">50Mpa</text>
<path d="M55.5 353.75H81.5" stroke="#5a5a5a" stroke-width="2.4"/>
<path d="M64.14 353.75L71.74 349.57L71.74 357.93Z" fill="#fff" stroke="#5a5a5a" stroke-width="1.0" stroke-linejoin="miter"/>
<text x="83.2" y="357.55" font-size="10.5" text-anchor="start" font-weight="bold">30Mpa</text>
<path d="M55.5 367.1H81.5" stroke="#c050c8" stroke-width="2.4"/>
<path d="M73.26 367.1L65.66 362.92L65.66 371.28Z" fill="#fff" stroke="#c050c8" stroke-width="1.0" stroke-linejoin="miter"/>
<text x="83.2" y="370.9" font-size="10.5" text-anchor="start" font-weight="bold">20Mpa</text>
<path d="M315.8 235.6 L345.84 253.32 L375.88 271.37 L405.91 291.67 L435.95 311.01 L465.99 331.82 L496.02 352.51" stroke="#fa0a14" stroke-width="3" fill="none" stroke-linejoin="round"/>
<rect x="312.56" y="232.36" width="6.48" height="6.48" fill="#fff" stroke="#fa0a14" stroke-width="1.0"/>
<rect x="342.6" y="250.08" width="6.48" height="6.48" fill="#fff" stroke="#fa0a14" stroke-width="1.0"/>
<rect x="372.63" y="268.13" width="6.48" height="6.48" fill="#fff" stroke="#fa0a14" stroke-width="1.0"/>
<rect x="402.67" y="288.43" width="6.48" height="6.48" fill="#fff" stroke="#fa0a14" stroke-width="1.0"/>
<rect x="432.71" y="307.77" width="6.48" height="6.48" fill="#fff" stroke="#fa0a14" stroke-width="1.0"/>
<rect x="462.75" y="328.58" width="6.48" height="6.48" fill="#fff" stroke="#fa0a14" stroke-width="1.0"/>
<rect x="492.78" y="349.27" width="6.48" height="6.48" fill="#fff" stroke="#fa0a14" stroke-width="1.0"/>
<path d="M315.8 235.6 L345.84 255.58 L375.88 276.2 L405.91 296.18 L435.95 316.81 L465.99 339.04 L496.02 359.99" stroke="#1a45a5" stroke-width="3" fill="none" stroke-linejoin="round"/>
<circle cx="315.8" cy="235.6" r="3.6" fill="#fff" stroke="#1a45a5" stroke-width="1.0"/>
<circle cx="345.84" cy="255.58" r="3.6" fill="#fff" stroke="#1a45a5" stroke-width="1.0"/>
<circle cx="375.88" cy="276.2" r="3.6" fill="#fff" stroke="#1a45a5" stroke-width="1.0"/>
<circle cx="405.91" cy="296.18" r="3.6" fill="#fff" stroke="#1a45a5" stroke-width="1.0"/>
<circle cx="435.95" cy="316.81" r="3.6" fill="#fff" stroke="#1a45a5" stroke-width="1.0"/>
<circle cx="465.99" cy="339.04" r="3.6" fill="#fff" stroke="#1a45a5" stroke-width="1.0"/>
<circle cx="496.02" cy="359.99" r="3.6" fill="#fff" stroke="#1a45a5" stroke-width="1.0"/>
<path d="M315.8 235.6 L345.84 256.55 L375.88 277.49 L405.91 298.76 L435.95 320.67 L465.99 341.94 L496.02 363.86" stroke="#1cb426" stroke-width="3" fill="none" stroke-linejoin="round"/>
<path d="M315.8 231.1L319.76 238.3L311.84 238.3Z" fill="#fff" stroke="#1cb426" stroke-width="1.0" stroke-linejoin="miter"/>
<path d="M345.84 252.05L349.8 259.25L341.88 259.25Z" fill="#fff" stroke="#1cb426" stroke-width="1.0" stroke-linejoin="miter"/>
<path d="M375.88 272.99L379.83 280.19L371.92 280.19Z" fill="#fff" stroke="#1cb426" stroke-width="1.0" stroke-linejoin="miter"/>
<path d="M405.91 294.26L409.87 301.46L401.95 301.46Z" fill="#fff" stroke="#1cb426" stroke-width="1.0" stroke-linejoin="miter"/>
<path d="M435.95 316.17L439.91 323.37L431.99 323.37Z" fill="#fff" stroke="#1cb426" stroke-width="1.0" stroke-linejoin="miter"/>
<path d="M465.99 337.44L469.95 344.64L462.03 344.64Z" fill="#fff" stroke="#1cb426" stroke-width="1.0" stroke-linejoin="miter"/>
<path d="M496.02 359.36L499.98 366.56L492.06 366.56Z" fill="#fff" stroke="#1cb426" stroke-width="1.0" stroke-linejoin="miter"/>
<rect x="305.5" y="220.3" width="199.3" height="160.3" fill="none" stroke="#000" stroke-width="2.0"/>
<path d="M315.8 380.6V375.6M360.3 380.6V375.6M404.8 380.6V375.6M449.3 380.6V375.6M493.8 380.6V375.6M338.05 380.6V377.6M382.55 380.6V377.6M427.05 380.6V377.6M471.55 380.6V377.6" stroke="#000" stroke-width="2.0" fill="none"/>
<path d="M305.5 235.6H310.5M305.5 267.82H310.5M305.5 300.05H310.5M305.5 332.27H310.5M305.5 364.5H310.5M305.5 251.71H308.5M305.5 283.94H308.5M305.5 316.16H308.5M305.5 348.39H308.5" stroke="#000" stroke-width="2.0" fill="none"/>
<text x="299.3" y="239.5" font-size="11.6" text-anchor="end" font-weight="bold">0</text>
<text x="299.3" y="271.72" font-size="11.6" text-anchor="end" font-weight="bold">-5</text>
<text x="299.3" y="303.95" font-size="11.6" text-anchor="end" font-weight="bold">-10</text>
<text x="299.3" y="336.17" font-size="11.6" text-anchor="end" font-weight="bold">-15</text>
<text x="299.3" y="368.4" font-size="11.6" text-anchor="end" font-weight="bold">-20</text>
<text x="316.4" y="396" font-size="11.2" text-anchor="middle" font-weight="bold">0</text>
<text x="360.9" y="396" font-size="11.2" text-anchor="middle" font-weight="bold">2</text>
<text x="405.4" y="396" font-size="11.2" text-anchor="middle" font-weight="bold">4</text>
<text x="449.9" y="396" font-size="11.2" text-anchor="middle" font-weight="bold">6</text>
<text x="494.4" y="396" font-size="11.2" text-anchor="middle" font-weight="bold">8</text>
<text x="407.2" y="409.5" font-size="12.9" text-anchor="middle" font-weight="bold">Mass Change (μg)</text>
<text x="276.8" y="300.2" font-size="12.5" text-anchor="middle" font-weight="bold" transform="rotate(-90 276.8 300.2)">Frequency Shift (kHz)</text>
<text x="262.5" y="229.6" font-size="22.5" text-anchor="start" font-weight="bold">(d)</text>
<text x="409.5" y="233.1" font-size="11.3" text-anchor="middle" font-weight="bold">Density</text>
<path d="M319.3 330H345.3" stroke="#fa0a14" stroke-width="2.4"/>
<rect x="329.16" y="326.76" width="6.48" height="6.48" fill="#fff" stroke="#fa0a14" stroke-width="1.0"/>
<text x="363.3" y="333.8" font-size="10.5" text-anchor="end" font-weight="bold">2.7</text>
<text x="368.4" y="333.8" font-size="10.5" text-anchor="start" font-weight="bold">g.cm</text>
<text x="389.5" y="329" font-size="7" text-anchor="start" font-weight="bold">−3</text>
<path d="M319.3 344.5H345.3" stroke="#1a45a5" stroke-width="2.4"/>
<circle cx="332.4" cy="344.5" r="3.6" fill="#fff" stroke="#1a45a5" stroke-width="1.0"/>
<text x="365.8" y="348.3" font-size="10.5" text-anchor="end" font-weight="bold">10.5</text>
<text x="368.4" y="348.3" font-size="10.5" text-anchor="start" font-weight="bold">g.cm</text>
<text x="389.5" y="343.5" font-size="7" text-anchor="start" font-weight="bold">−3</text>
<path d="M319.3 358.7H345.3" stroke="#1cb426" stroke-width="2.4"/>
<path d="M332.4 354.2L336.36 361.4L328.44 361.4Z" fill="#fff" stroke="#1cb426" stroke-width="1.0" stroke-linejoin="miter"/>
<text x="365.8" y="362.5" font-size="10.5" text-anchor="end" font-weight="bold">19.3</text>
<text x="368.4" y="362.5" font-size="10.5" text-anchor="start" font-weight="bold">g.cm</text>
<text x="389.5" y="357.7" font-size="7" text-anchor="start" font-weight="bold">−3</text>
<path d="M582.6 231.5 L609.6 252.8 L636.6 274.3 L663.6 296 L690.6 318 L717.6 340 L744.6 361.8" stroke="#fa0a14" stroke-width="3" fill="none" stroke-linejoin="round"/>
<path d="M582.6 232.6 L609.6 253.9 L636.6 275.4 L663.6 297.1 L690.6 319.1 L717.6 341.1 L744.6 362.9" stroke="#ff7f1e" stroke-width="3" fill="none" stroke-linejoin="round"/>
<path d="M582.6 232.3 L609.6 253.6 L636.6 275.1 L663.6 296.8 L690.6 318.8 L717.6 340.8 L744.6 362.6" stroke="#1cb426" stroke-width="3" fill="none" stroke-linejoin="round"/>
<path d="M582.6 230.8 L609.6 252 L636.6 273.5 L663.6 295 L690.6 316.6 L717.6 338.9 L744.6 360.6" stroke="#1a45a5" stroke-width="3" fill="none" stroke-linejoin="round"/>
<path d="M582.6 233.4 L609.6 254.8 L636.6 276.2 L663.6 298 L690.6 320.6 L717.6 342 L744.6 363.9" stroke="#d4b400" stroke-width="3.5" fill="none" stroke-linejoin="round"/>
<rect x="579.18" y="228.08" width="6.84" height="6.84" fill="#fff" stroke="#fa0a14" stroke-width="1.0"/>
<rect x="606.18" y="249.38" width="6.84" height="6.84" fill="#fff" stroke="#fa0a14" stroke-width="1.0"/>
<rect x="633.18" y="270.88" width="6.84" height="6.84" fill="#fff" stroke="#fa0a14" stroke-width="1.0"/>
<rect x="660.18" y="292.58" width="6.84" height="6.84" fill="#fff" stroke="#fa0a14" stroke-width="1.0"/>
<rect x="687.18" y="314.58" width="6.84" height="6.84" fill="#fff" stroke="#fa0a14" stroke-width="1.0"/>
<rect x="714.18" y="336.58" width="6.84" height="6.84" fill="#fff" stroke="#fa0a14" stroke-width="1.0"/>
<rect x="741.18" y="358.38" width="6.84" height="6.84" fill="#fff" stroke="#fa0a14" stroke-width="1.0"/>
<path d="M582.6 237.35L586.78 229.75L578.42 229.75Z" fill="#fff" stroke="#ff7f1e" stroke-width="1.0" stroke-linejoin="miter"/>
<path d="M609.6 258.65L613.78 251.05L605.42 251.05Z" fill="#fff" stroke="#ff7f1e" stroke-width="1.0" stroke-linejoin="miter"/>
<path d="M636.6 280.15L640.78 272.55L632.42 272.55Z" fill="#fff" stroke="#ff7f1e" stroke-width="1.0" stroke-linejoin="miter"/>
<path d="M663.6 301.85L667.78 294.25L659.42 294.25Z" fill="#fff" stroke="#ff7f1e" stroke-width="1.0" stroke-linejoin="miter"/>
<path d="M690.6 323.85L694.78 316.25L686.42 316.25Z" fill="#fff" stroke="#ff7f1e" stroke-width="1.0" stroke-linejoin="miter"/>
<path d="M717.6 345.85L721.78 338.25L713.42 338.25Z" fill="#fff" stroke="#ff7f1e" stroke-width="1.0" stroke-linejoin="miter"/>
<path d="M744.6 367.65L748.78 360.05L740.42 360.05Z" fill="#fff" stroke="#ff7f1e" stroke-width="1.0" stroke-linejoin="miter"/>
<path d="M582.6 227.55L586.78 235.15L578.42 235.15Z" fill="#fff" stroke="#1cb426" stroke-width="1.0" stroke-linejoin="miter"/>
<path d="M609.6 248.85L613.78 256.45L605.42 256.45Z" fill="#fff" stroke="#1cb426" stroke-width="1.0" stroke-linejoin="miter"/>
<path d="M636.6 270.35L640.78 277.95L632.42 277.95Z" fill="#fff" stroke="#1cb426" stroke-width="1.0" stroke-linejoin="miter"/>
<path d="M663.6 292.05L667.78 299.65L659.42 299.65Z" fill="#fff" stroke="#1cb426" stroke-width="1.0" stroke-linejoin="miter"/>
<path d="M690.6 314.05L694.78 321.65L686.42 321.65Z" fill="#fff" stroke="#1cb426" stroke-width="1.0" stroke-linejoin="miter"/>
<path d="M717.6 336.05L721.78 343.65L713.42 343.65Z" fill="#fff" stroke="#1cb426" stroke-width="1.0" stroke-linejoin="miter"/>
<path d="M744.6 357.85L748.78 365.45L740.42 365.45Z" fill="#fff" stroke="#1cb426" stroke-width="1.0" stroke-linejoin="miter"/>
<circle cx="582.6" cy="230.8" r="3.8" fill="#fff" stroke="#1a45a5" stroke-width="1.0"/>
<circle cx="609.6" cy="252" r="3.8" fill="#fff" stroke="#1a45a5" stroke-width="1.0"/>
<circle cx="636.6" cy="273.5" r="3.8" fill="#fff" stroke="#1a45a5" stroke-width="1.0"/>
<circle cx="663.6" cy="295" r="3.8" fill="#fff" stroke="#1a45a5" stroke-width="1.0"/>
<circle cx="690.6" cy="316.6" r="3.8" fill="#fff" stroke="#1a45a5" stroke-width="1.0"/>
<circle cx="717.6" cy="338.9" r="3.8" fill="#fff" stroke="#1a45a5" stroke-width="1.0"/>
<circle cx="744.6" cy="360.6" r="3.8" fill="#fff" stroke="#1a45a5" stroke-width="1.0"/>
<path d="M582.6 228.84L586.78 233.4L582.6 237.96L578.42 233.4Z" fill="#fff" stroke="#d4b400" stroke-width="1.0" stroke-linejoin="miter"/>
<path d="M609.6 250.24L613.78 254.8L609.6 259.36L605.42 254.8Z" fill="#fff" stroke="#d4b400" stroke-width="1.0" stroke-linejoin="miter"/>
<path d="M636.6 271.64L640.78 276.2L636.6 280.76L632.42 276.2Z" fill="#fff" stroke="#d4b400" stroke-width="1.0" stroke-linejoin="miter"/>
<path d="M663.6 293.44L667.78 298L663.6 302.56L659.42 298Z" fill="#fff" stroke="#d4b400" stroke-width="1.0" stroke-linejoin="miter"/>
<path d="M690.6 316.04L694.78 320.6L690.6 325.16L686.42 320.6Z" fill="#fff" stroke="#d4b400" stroke-width="1.0" stroke-linejoin="miter"/>
<path d="M717.6 337.44L721.78 342L717.6 346.56L713.42 342Z" fill="#fff" stroke="#d4b400" stroke-width="1.0" stroke-linejoin="miter"/>
<path d="M744.6 359.34L748.78 363.9L744.6 368.46L740.42 363.9Z" fill="#fff" stroke="#d4b400" stroke-width="1.0" stroke-linejoin="miter"/>
<rect x="563.2" y="220.3" width="199.1" height="160.3" fill="none" stroke="#000" stroke-width="2.0"/>
<path d="M582.6 380.6V375.6M622.6 380.6V375.6M662.6 380.6V375.6M702.6 380.6V375.6M742.6 380.6V375.6M602.6 380.6V377.6M642.6 380.6V377.6M682.6 380.6V377.6M722.6 380.6V377.6" stroke="#000" stroke-width="2.0" fill="none"/>
<path d="M563.2 236.2H568.2M563.2 268.4H568.2M563.2 300.6H568.2M563.2 332.8H568.2M563.2 365H568.2M563.2 252.3H566.2M563.2 284.5H566.2M563.2 316.7H566.2M563.2 348.9H566.2" stroke="#000" stroke-width="2.0" fill="none"/>
<text x="560" y="240.8" font-size="11.3" text-anchor="end" font-weight="bold">9.910</text>
<text x="560" y="273" font-size="11.3" text-anchor="end" font-weight="bold">9.905</text>
<text x="560" y="305.2" font-size="11.3" text-anchor="end" font-weight="bold">9.900</text>
<text x="560" y="337.4" font-size="11.3" text-anchor="end" font-weight="bold">9.895</text>
<text x="560" y="369.6" font-size="11.3" text-anchor="end" font-weight="bold">9.890</text>
<text x="584" y="393.6" font-size="10.8" text-anchor="middle" font-weight="bold">0</text>
<text x="624" y="393.6" font-size="10.8" text-anchor="middle" font-weight="bold">2</text>
<text x="664" y="393.6" font-size="10.8" text-anchor="middle" font-weight="bold">4</text>
<text x="704" y="393.6" font-size="10.8" text-anchor="middle" font-weight="bold">6</text>
<text x="744" y="393.6" font-size="10.8" text-anchor="middle" font-weight="bold">8</text>
<text x="663.5" y="408.5" font-size="12.9" text-anchor="middle" font-weight="bold">Mass Change (μg)</text>
<text x="525.3" y="301.9" font-size="12.8" text-anchor="middle" font-weight="bold" transform="rotate(-90 525.3 301.9)" xml:space="preserve">Frequency  (MHz)</text>
<text x="509.5" y="229.6" font-size="22.5" text-anchor="start" font-weight="bold">(e)</text>
<text x="662.3" y="234.7" font-size="11.7" text-anchor="middle" font-weight="bold">Poisson's Ratio</text>
<path d="M578.5 307.7H604.4" stroke="#fa0a14" stroke-width="2.4"/>
<rect x="588.08" y="304.28" width="6.84" height="6.84" fill="#fff" stroke="#fa0a14" stroke-width="1.0"/>
<text x="605.8" y="311.5" font-size="10.5" text-anchor="start" font-weight="bold">−0.4</text>
<path d="M578.5 320.97H604.4" stroke="#ff7f1e" stroke-width="2.4"/>
<path d="M591.5 325.72L595.68 318.12L587.32 318.12Z" fill="#fff" stroke="#ff7f1e" stroke-width="1.0" stroke-linejoin="miter"/>
<text x="605.8" y="324.77" font-size="10.5" text-anchor="start" font-weight="bold">0.2</text>
<path d="M578.5 334.24H604.4" stroke="#1cb426" stroke-width="2.4"/>
<path d="M591.5 329.49L595.68 337.09L587.32 337.09Z" fill="#fff" stroke="#1cb426" stroke-width="1.0" stroke-linejoin="miter"/>
<text x="605.8" y="338.04" font-size="10.5" text-anchor="start" font-weight="bold">0</text>
<path d="M578.5 347.51H604.4" stroke="#d4b400" stroke-width="2.4"/>
<path d="M591.5 342.95L595.68 347.51L591.5 352.07L587.32 347.51Z" fill="#fff" stroke="#d4b400" stroke-width="1.0" stroke-linejoin="miter"/>
<text x="605.8" y="351.31" font-size="10.5" text-anchor="start" font-weight="bold">−0.2</text>
<path d="M578.5 360.78H604.4" stroke="#1a45a5" stroke-width="2.4"/>
<circle cx="591.5" cy="360.78" r="3.8" fill="#fff" stroke="#1a45a5" stroke-width="1.0"/>
<text x="605.8" y="364.58" font-size="10.5" text-anchor="start" font-weight="bold">0.4</text>
</svg>
</body></html>
